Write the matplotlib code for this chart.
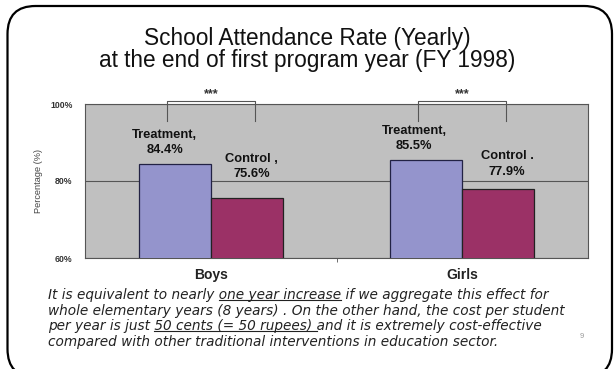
import matplotlib.pyplot as plt
import matplotlib.transforms as mtransforms
from matplotlib.patches import FancyBboxPatch
from matplotlib.lines import Line2D
import numpy as np

# data
groups = ['Boys', 'Girls']
treatment = [84.4, 85.5]
control = [75.6, 77.9]
treat_labels = ['Treatment,', 'Treatment,']
ctrl_labels = ['Control ,', 'Control .']
yticks = [60, 80, 100]
ytick_labels = ['60%', '80%', '100%']

title_lines = ['School Attendance Rate (Yearly)',
               'at the end of first program year (FY 1998)']
note_lines = [
    [('It is equivalent to nearly ', False), ('one year increase', True),
     (' if we aggregate this effect for', False)],
    [('whole elementary years (8 years) . On the other hand, the cost per student', False)],
    [('per year is just ', False), ('50 cents (= 50 rupees) ', True),
     ('and it is extremely cost-effective', False)],
    [('compared with other traditional interventions in education sector.', False)],
]

W, H = 615, 369
fig = plt.figure(figsize=(W / 100, H / 100), dpi=100)
plt.rcParams['font.family'] = ['Liberation Sans', 'DejaVu Sans']

# rounded slide border
border = FancyBboxPatch((7.5, -8), 604.5, 371, boxstyle='round,pad=0,rounding_size=28',
                        transform=mtransforms.IdentityTransform(),
                        fc='none', ec='black', lw=1.6)
fig.patches.append(border)

for line, yp in zip(title_lines, [38, 61]):
    fig.text(0.5, 1 - yp / H, line, ha='center', va='center', fontsize=16.3,
             color='#111111')

ax = fig.add_axes([85 / W, 1 - 258 / H, 503 / W, 154 / H])
ax.set_facecolor('#c0c0c0')
x = np.arange(len(groups))
bw = 0.286
ax.bar(x - bw / 2, treatment, bw, color='#9494cc', edgecolor='#222244', lw=0.9, zorder=3)
ax.bar(x + bw / 2, control, bw, color='#9b3166', edgecolor='#222222', lw=0.9, zorder=3)
ax.set_xlim(-0.5, 1.5)
ax.set_ylim(60, 100)
ax.set_yticks(yticks)
ax.set_yticklabels(ytick_labels, fontsize=6.3, fontweight='bold', color='#333333')
ax.yaxis.grid(True, color='#555555', lw=0.8, zorder=1)
ax.set_xticks(x)
ax.set_xticklabels(groups, fontsize=10, fontweight='bold', color='#222222')
ax.set_xticks([0.5], minor=True)
ax.tick_params(axis='x', which='major', length=0, pad=7)
ax.tick_params(axis='x', which='minor', length=3, color='#555555')
ax.tick_params(axis='y', length=0, pad=9)
ax.set_ylabel('Percentage (%)', fontsize=6.6, color='#444444', labelpad=5)
for s in ax.spines.values():
    s.set_color('#555555')
    s.set_linewidth(0.8)

t_off = [(-0.04, 2.0), (-0.048, 2.0)]
c_off = [(0.02, 4.6), (0.036, 3.0)]
for i in range(len(groups)):
    dx, dy = t_off[i]
    ax.text(x[i] - bw / 2 + dx, treatment[i] + dy, f'{treat_labels[i]}\n{treatment[i]}%',
            ha='center', va='bottom', fontsize=9.3, fontweight='bold', color='#111111',
            linespacing=1.35, zorder=4)
    dx, dy = c_off[i]
    ax.text(x[i] + bw / 2 + dx, control[i] + dy, f'{ctrl_labels[i]}\n{control[i]}%',
            ha='center', va='bottom', fontsize=9.3, fontweight='bold', color='#111111',
            linespacing=1.35, zorder=4)
    # significance bracket
    ax.plot([x[i] - 0.175, x[i] - 0.175, x[i] + 0.175, x[i] + 0.175],
            [95.6, 100.8, 100.8, 95.6], color='#555555', lw=0.8, clip_on=False, zorder=5)
    ax.text(x[i], 100.9, '***', ha='center', va='bottom', fontsize=9, fontweight='bold',
            color='#333333')

# note text with underlines
fig.canvas.draw()
r = fig.canvas.get_renderer()
nkw = dict(fontsize=10, style='italic', family='DejaVu Sans', color='#222222')


def text_w(s):
    t = fig.text(0, 0, s + '|', **nkw)
    w = t.get_window_extent(r).width
    t.remove()
    t = fig.text(0, 0, '|', **nkw)
    w -= t.get_window_extent(r).width
    t.remove()
    return w


# fit the note font so the longest line spans the slide text box
nkw['fontsize'] = 10 * 512 / text_w(note_lines[1][0][0])

x0 = 48
ys = [295, 310.5, 326, 342]
for segs, yp in zip(note_lines, ys):
    full = ''.join(s for s, _ in segs)
    fig.text(x0 / W, 1 - yp / H, full, ha='left', va='center', **nkw)
    pre = ''
    for s, u in segs:
        if u:
            a = x0 + text_w(pre)
            b = x0 + text_w(pre + s)
            fig.add_artist(Line2D([a / W, b / W], [1 - (yp + 5) / H] * 2,
                                  color='#222222', lw=0.8, transform=fig.transFigure))
        pre += s

fig.text(582 / W, 1 - 337 / H, '9', fontsize=5.5, color='#999999', ha='center', va='center')

fig.savefig('out.png', dpi=100)
